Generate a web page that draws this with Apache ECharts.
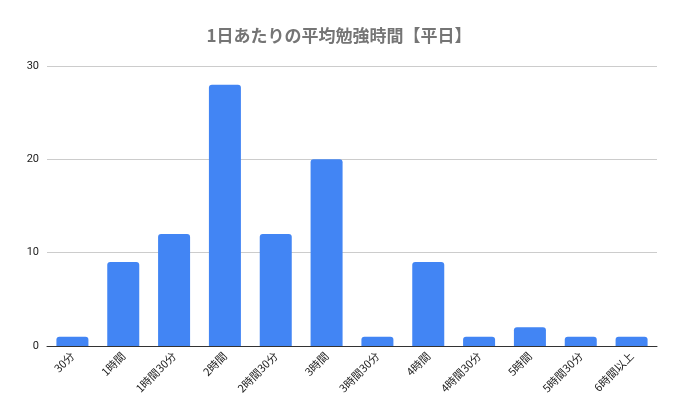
<!DOCTYPE html>
<html><head><meta charset="utf-8">
<script src="https://cdn.jsdelivr.net/npm/echarts@6/dist/echarts.min.js"></script>
<style>html,body{margin:0;padding:0;background:#fff}#c{width:678px;height:419px}</style>
</head><body><div id="c"></div>
<script>
const categories = ['30分','1時間','1時間30分','2時間','2時間30分','3時間','3時間30分','4時間','4時間30分','5時間','5時間30分','6時間以上'];
const values = [1,9,12,28,12,20,1,9,1,2,1,1];
const yTicks = [0,10,20,30];
const chart = echarts.init(document.getElementById('c'));
chart.setOption({
  animation:false,
  textStyle:{fontFamily:'Roboto, "Noto Sans CJK JP", sans-serif'},
  title:{text:'1日あたりの平均勉強時間【平日】',left:'center',top:22,
    textStyle:{fontSize:17,fontWeight:'bold',color:'#757575',fontFamily:'"Noto Sans CJK JP", sans-serif'}},
  grid:{left:47,right:21,top:66,bottom:73},
  xAxis:{type:'category',data:categories,
    axisLine:{lineStyle:{color:'#333'}},axisTick:{show:false},
    axisLabel:{rotate:45,color:'#222',fontSize:11,interval:0,margin:8,fontFamily:'"Noto Sans CJK JP", sans-serif'}},
  yAxis:{type:'value',min:yTicks[0],max:yTicks[yTicks.length-1],interval:10,
    axisLine:{show:false},axisTick:{show:false},
    axisLabel:{color:'#222',fontSize:11,margin:8},
    splitLine:{lineStyle:{color:'#ccc'}}},
  series:[{type:'bar',data:values,barWidth:32,itemStyle:{color:'#4285f4',borderRadius:[3,3,0,0]}}]
});
</script></body></html>
